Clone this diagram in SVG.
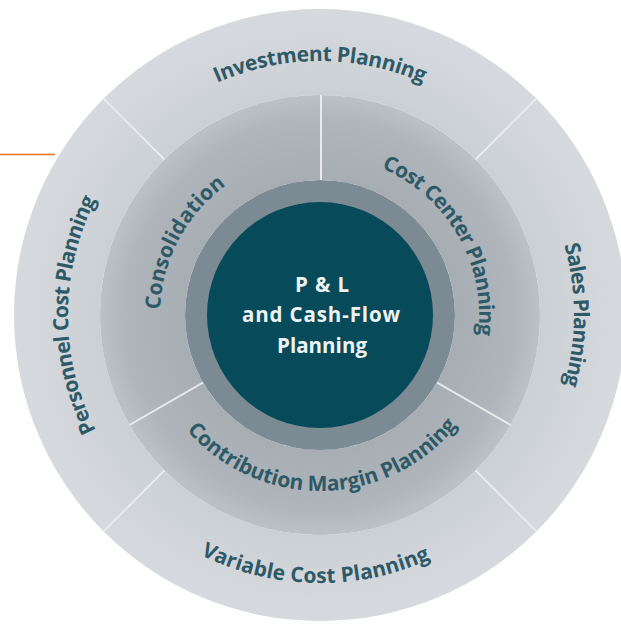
<svg xmlns="http://www.w3.org/2000/svg" width="621" height="626" viewBox="0 0 621 626">
<style>
.lbl{font-family:"Open Sans","Noto Sans","DejaVu Sans",sans-serif;font-weight:700;fill:#2e5a67;}
.outer{font-size:21px;}
.mid{font-size:21px;}
.ctr{font-family:"Open Sans","Noto Sans","DejaVu Sans",sans-serif;font-weight:700;font-size:20.5px;fill:#eef2f3;text-anchor:middle;}
.div{stroke:#e9ebed;stroke-width:2;fill:none;}
</style>
<defs>
<radialGradient id="gOuter" gradientUnits="userSpaceOnUse" cx="320" cy="315" r="306">
<stop offset="0.72" stop-color="#cbd0d5"/>
<stop offset="0.85" stop-color="#d1d5da"/>
<stop offset="1" stop-color="#d6d9dd"/>
</radialGradient>
<radialGradient id="gMid" gradientUnits="userSpaceOnUse" cx="320" cy="315" r="220">
<stop offset="0.61" stop-color="#a6adb3"/>
<stop offset="0.88" stop-color="#afb5bb"/>
<stop offset="1" stop-color="#bcc1c6"/>
</radialGradient>
<path id="pInv" d="M 66 315 A 254 254 0 0 1 574 315"/>
<path id="pSales" d="M 320 61 A 254 254 0 0 1 320 569"/>
<path id="pPers" d="M 320 567 A 252 252 0 0 1 320 63"/>
<path id="pVar" d="M 52 315 A 268 268 0 0 0 588 315"/>
<path id="pCons" d="M 244.88 456.27 A 160 160 0 0 1 395.12 173.73"/>
<path id="pCost" d="M 240 176.44 A 160 160 0 0 1 400 453.56"/>
<path id="pContr" d="M 144 315 A 176 176 0 0 0 496 315"/>
</defs>
<rect width="621" height="626" fill="#ffffff"/>

<g id="investment-planning">
<path d="M 103.62 98.62 A 306 306 0 0 1 536.38 98.62 L 475.56 159.44 A 220 220 0 0 0 164.44 159.44 Z" fill="url(#gOuter)"/>
<text class="lbl outer"><textPath href="#pInv" startOffset="50%" text-anchor="middle" textLength="212" lengthAdjust="spacing">Investment Planning</textPath></text>
</g>
<g id="sales-planning">
<path d="M 536.38 98.62 A 306 306 0 0 1 536.38 531.38 L 475.56 470.56 A 220 220 0 0 0 475.56 159.44 Z" fill="url(#gOuter)"/>
<text class="lbl outer"><textPath href="#pSales" startOffset="50%" text-anchor="middle" textLength="142" lengthAdjust="spacing">Sales Planning</textPath></text>
</g>
<g id="variable-cost-planning">
<path d="M 536.38 531.38 A 306 306 0 0 1 103.62 531.38 L 164.44 470.56 A 220 220 0 0 0 475.56 470.56 Z" fill="url(#gOuter)"/>
<text class="lbl outer"><textPath href="#pVar" startOffset="416" text-anchor="middle" textLength="238" lengthAdjust="spacing">Variable Cost Planning</textPath></text>
</g>
<g id="personnel-cost-planning">
<path d="M 103.62 531.38 A 306 306 0 0 1 103.62 98.62 L 164.44 159.44 A 220 220 0 0 0 164.44 470.56 Z" fill="url(#gOuter)"/>
<text class="lbl outer"><textPath href="#pPers" startOffset="50%" text-anchor="middle" textLength="240" lengthAdjust="spacing">Personnel Cost Planning</textPath></text>
</g>

<g id="cost-center-planning">
<path d="M 320 95 A 220 220 0 0 1 510.53 425 L 436.91 382.5 A 135 135 0 0 0 320 180 Z" fill="url(#gMid)"/>
<text class="lbl mid"><textPath href="#pCost" startOffset="50%" text-anchor="middle" textLength="207" lengthAdjust="spacing">Cost Center Planning</textPath></text>
</g>
<g id="contribution-margin-planning">
<path d="M 510.53 425 A 220 220 0 0 1 129.47 425 L 203.09 382.5 A 135 135 0 0 0 436.91 382.5 Z" fill="url(#gMid)"/>
<text class="lbl mid"><textPath href="#pContr" startOffset="279.5" text-anchor="middle" textLength="308" lengthAdjust="spacing">Contribution Margin Planning</textPath></text>
</g>
<g id="consolidation">
<path d="M 129.47 425 A 220 220 0 0 1 320 95 L 320 180 A 135 135 0 0 0 203.09 382.5 Z" fill="url(#gMid)"/>
<text class="lbl mid"><textPath href="#pCons" startOffset="50%" text-anchor="middle" textLength="146" lengthAdjust="spacing">Consolidation</textPath></text>
</g>

<g id="dividers">
<line class="div" x1="103.62" y1="98.62" x2="164.44" y2="159.44"/>
<line class="div" x1="536.38" y1="98.62" x2="475.56" y2="159.44"/>
<line class="div" x1="536.38" y1="531.38" x2="475.56" y2="470.56"/>
<line class="div" x1="103.62" y1="531.38" x2="164.44" y2="470.56"/>
<line class="div" x1="321" y1="95" x2="321" y2="180"/>
<line class="div" x1="510.53" y1="425" x2="436.91" y2="382.5"/>
<line class="div" x1="129.47" y1="425" x2="203.09" y2="382.5"/>
</g>

<g id="pl-cash-flow-planning">
<circle cx="320" cy="315" r="135" fill="#7c8a93"/>
<circle cx="320" cy="315" r="113" fill="#074b5a"/>
<text class="ctr" x="322" y="292" textLength="54" lengthAdjust="spacing">P &amp; L</text>
<text class="ctr" x="321" y="322" textLength="158" lengthAdjust="spacing">and Cash-Flow</text>
<text class="ctr" x="322" y="353" textLength="90" lengthAdjust="spacing">Planning</text>
</g>

<g id="connectors">
<line x1="0" y1="154.5" x2="55" y2="154.5" stroke="#e8711f" stroke-width="1.5"/>
</g>
</svg>
